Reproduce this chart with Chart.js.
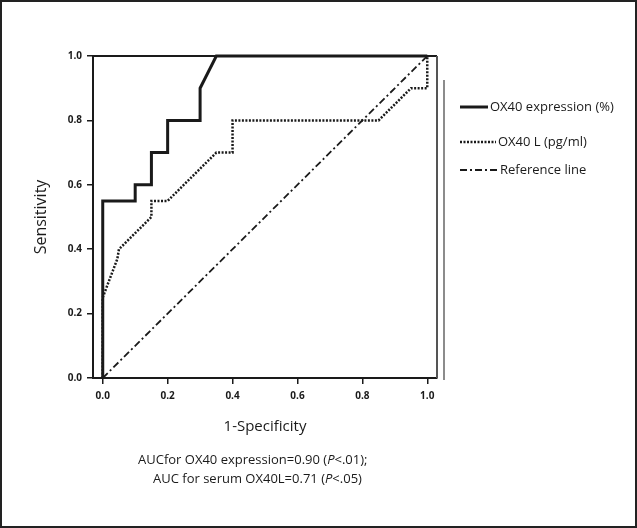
<!DOCTYPE html>
<html>
<head>
<meta charset="utf-8">
<script src="https://cdn.jsdelivr.net/npm/chart.js@4.4.0/dist/chart.umd.min.js"></script>
<style>
  body { margin: 0; background: #fff; }
  #wrap { position: relative; width: 637px; height: 528px; overflow: hidden; }
  #roc { position: absolute; left: 0; top: 0; }
  #frame { position: absolute; left: 0; top: 0; width: 637px; height: 528px; box-sizing: border-box; border: 2px solid #222; pointer-events: none; }
  .note { position: absolute; font-family: "Open Sans", sans-serif; font-size: 13px; color: #1a1a1a; white-space: nowrap; }
</style>
</head>
<body>
<div id="wrap">
  <canvas id="roc" width="637" height="528"></canvas>
  <div class="note" style="left:138px; top:450px;">AUCfor OX40 expression=0.90 (<i>P</i>&lt;.01);</div>
  <div class="note" style="left:153px; top:469px;">AUC for serum OX40L=0.71 (<i>P</i>&lt;.05)</div>
  <div id="frame"></div>
</div>
<script>
// ROC curve points (1 - specificity, sensitivity)
var ox40Fpr = [0, 0, 0.1, 0.1, 0.15, 0.15, 0.2, 0.2, 0.3, 0.3, 0.35, 1.0];
var ox40Tpr = [0, 0.55, 0.55, 0.6, 0.6, 0.7, 0.7, 0.8, 0.8, 0.9, 1.0, 1.0];

var ox40lFpr = [0, 0, 0.045, 0.05, 0.15, 0.15, 0.2, 0.35, 0.4, 0.4, 0.85, 0.95, 1.0, 1.0];
var ox40lTpr = [0, 0.25, 0.37, 0.4, 0.5, 0.55, 0.55, 0.7, 0.7, 0.8, 0.8, 0.9, 0.9, 1.0];

var refFpr = [0, 1];
var refTpr = [0, 1];

var seriesLabels = ['OX40 expression (%)', 'OX40 L (pg/ml)', 'Reference line'];
var tickValues = [0, 0.2, 0.4, 0.6, 0.8, 1.0];

function pts(xs, ys) {
    return xs.map(function (x, i) { return {x: x, y: ys[i]}; });
}

var ink = '#1a1a1a';
var font = '"Open Sans", sans-serif';

// frame on top/right, separator line and legend
var extras = {
    id: 'extras',
    afterDraw: function (chart) {
        var ctx = chart.ctx, a = chart.chartArea;
        ctx.save();
        ctx.strokeStyle = ink;
        ctx.lineWidth = 2;
        ctx.beginPath();
        ctx.moveTo(a.left, a.top);
        ctx.lineTo(a.right, a.top);
        ctx.stroke();
        ctx.strokeStyle = '#555';
        ctx.beginPath();
        ctx.moveTo(a.right, a.top);
        ctx.lineTo(a.right, a.bottom);
        ctx.stroke();
        ctx.lineWidth = 1.5;
        ctx.strokeStyle = '#666';
        ctx.beginPath();
        ctx.moveTo(a.right + 7, a.top + 24);
        ctx.lineTo(a.right + 7, a.bottom + 2);
        ctx.stroke();

        // legend
        var rows = [
            {y: 107, w: 28},
            {y: 142, w: 36},
            {y: 170, w: 38}
        ];
        ctx.font = '13px ' + font;
        ctx.fillStyle = ink;
        ctx.textBaseline = 'middle';
        chart.data.datasets.forEach(function (ds, i) {
            var r = rows[i], x0 = 460;
            ctx.strokeStyle = ink;
            ctx.lineWidth = ds.borderWidth;
            ctx.setLineDash(ds.borderDash || []);
            ctx.beginPath();
            ctx.moveTo(x0, r.y);
            ctx.lineTo(x0 + r.w, r.y);
            ctx.stroke();
            ctx.setLineDash([]);
            ctx.fillText(ds.label, x0 + r.w + 2, r.y);
        });
        ctx.restore();
    }
};

var ctx = document.getElementById('roc').getContext('2d');
var chart = new Chart(ctx, {
    type: 'scatter',
    data: {
        datasets: [{
            label: seriesLabels[0],
            data: pts(ox40Fpr, ox40Tpr),
            showLine: true,
            borderColor: ink,
            borderWidth: 3,
            pointRadius: 0,
            clip: 4
        }, {
            label: seriesLabels[1],
            data: pts(ox40lFpr, ox40lTpr),
            showLine: true,
            borderColor: ink,
            borderWidth: 2.5,
            borderDash: [2, 1.5],
            pointRadius: 0,
            clip: 4
        }, {
            label: seriesLabels[2],
            data: pts(refFpr, refTpr),
            showLine: true,
            borderColor: ink,
            borderWidth: 1.8,
            borderDash: [7, 3, 2, 3],
            pointRadius: 0,
            clip: 4
        }]
    },
    options: {
        responsive: false,
        animation: false,
        layout: {
            padding: {left: 0, top: 56, right: 200, bottom: 0}
        },
        plugins: {
            legend: {display: false},
            tooltip: {enabled: false}
        },
        scales: {
            x: {
                type: 'linear',
                min: -0.03,
                max: 1.03,
                afterBuildTicks: function (s) {
                    s.ticks = tickValues.map(function (v) { return {value: v}; });
                },
                afterFit: function (s) { s.height = 150; },
                ticks: {
                    color: ink,
                    font: {family: font, size: 10, weight: '700'},
                    padding: 6,
                    maxRotation: 0,
                    callback: function (v) { return v.toFixed(1); }
                },
                grid: {drawOnChartArea: false, drawTicks: true, tickLength: 6, color: ink, lineWidth: 1.5},
                border: {display: true, color: ink, width: 2},
                title: {
                    display: true,
                    text: '1-Specificity',
                    color: ink,
                    font: {family: font, size: 15},
                    padding: {top: 0, bottom: 92}
                }
            },
            y: {
                min: 0,
                max: 1,
                afterBuildTicks: function (s) {
                    s.ticks = tickValues.map(function (v) { return {value: v}; });
                },
                afterFit: function (s) { s.width = 93; },
                ticks: {
                    color: ink,
                    font: {family: font, size: 10, weight: '700'},
                    padding: 5,
                    callback: function (v) { return v.toFixed(1); }
                },
                grid: {drawOnChartArea: false, drawTicks: true, tickLength: 6, color: ink, lineWidth: 1.5},
                border: {display: true, color: ink, width: 2},
                title: {
                    display: true,
                    text: 'Sensitivity',
                    color: ink,
                    font: {family: font, size: 16},
                    padding: {top: 32, bottom: 0}
                }
            }
        }
    },
    plugins: [extras]
});
</script>
</body>
</html>
